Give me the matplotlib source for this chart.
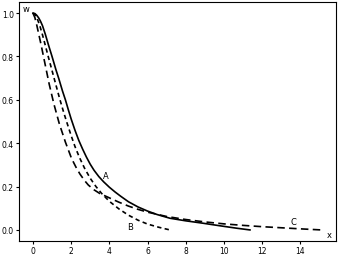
import matplotlib
matplotlib.use("Agg")
import matplotlib.pyplot as plt

# Curve A (solid)
a_x = [0.0, 0.1, 0.2, 0.3, 0.4, 0.5, 0.65, 0.8, 1.0, 1.2, 1.36, 1.55, 1.7, 1.85, 2.0, 2.2, 2.4, 2.6, 2.8, 3.0, 3.2, 3.45, 3.7, 4.0, 4.3, 4.6, 5.0, 5.5, 6.0, 6.5, 7.17, 8.0, 8.9, 9.8, 10.66, 11.36]
a_w = [1.0, 0.998, 0.99, 0.978, 0.962, 0.942, 0.902, 0.857, 0.80, 0.74, 0.696, 0.64, 0.60, 0.555, 0.512, 0.46, 0.413, 0.373, 0.336, 0.303, 0.275, 0.246, 0.222, 0.197, 0.175, 0.155, 0.13, 0.106, 0.087, 0.071, 0.054, 0.042, 0.031, 0.019, 0.008, 0.0]

# Curve B (short dash)
b_x = [0.0, 0.1, 0.2, 0.35, 0.5, 0.63, 0.8, 1.0, 1.19, 1.4, 1.6, 1.76, 2.0, 2.2, 2.43, 2.7, 3.0, 3.3, 3.6, 4.0, 4.5, 5.0, 5.5, 6.0, 6.6, 7.17]
b_w = [1.0, 0.995, 0.98, 0.945, 0.9, 0.857, 0.80, 0.735, 0.673, 0.605, 0.545, 0.50, 0.435, 0.385, 0.335, 0.285, 0.238, 0.2, 0.168, 0.132, 0.097, 0.068, 0.045, 0.027, 0.012, 0.0]

# Curve C (long dash)
c_x = [0.0, 0.1, 0.2, 0.3, 0.42, 0.6, 0.85, 1.1, 1.38, 1.7, 2.02, 2.25, 2.46, 2.7, 2.9, 3.2, 3.5, 4.0, 4.5, 5.0, 5.5, 6.0, 7.0, 8.0, 9.0, 10.0, 11.0, 12.0, 13.0, 14.0, 15.1]
c_w = [1.0, 0.98, 0.945, 0.905, 0.857, 0.78, 0.673, 0.58, 0.49, 0.405, 0.33, 0.29, 0.258, 0.228, 0.207, 0.185, 0.168, 0.148, 0.128, 0.11, 0.095, 0.082, 0.062, 0.048, 0.037, 0.028, 0.021, 0.015, 0.01, 0.005, 0.0]

labels = ["A", "B", "C"]
label_x = [3.8, 5.1, 13.66]
label_w = [0.253, 0.014, 0.04]

fig = plt.figure(figsize=(3.39, 2.55), dpi=100)
ax = fig.add_axes([0.056, 0.051, 0.935, 0.937])

ax.plot(a_x, a_w, color="black", lw=1.2)
ax.plot(b_x, b_w, color="black", lw=1.2, dashes=(2.6, 2.0))
ax.plot(c_x, c_w, color="black", lw=1.2, dashes=(4.5, 2.6))

for t, x, y in zip(labels, label_x, label_w):
    ax.text(x, y, t, fontsize=6, ha="center", va="center")

ax.set_xticks([0, 2, 4, 6, 8, 10, 12, 14])
ax.set_yticks([0.0, 0.2, 0.4, 0.6, 0.8, 1.0])
ax.tick_params(labelsize=5.5, length=2, width=0.8, pad=1.8)
ax.set_xlim(-0.73, 15.86)
ax.set_ylim(-0.051, 1.051)

ax.text(0.01, 0.99, "w", transform=ax.transAxes, fontsize=6, ha="left", va="top")
ax.text(15.5, -0.023, "x", fontsize=6, ha="center", va="center")

fig.savefig("out.png", dpi=100)
